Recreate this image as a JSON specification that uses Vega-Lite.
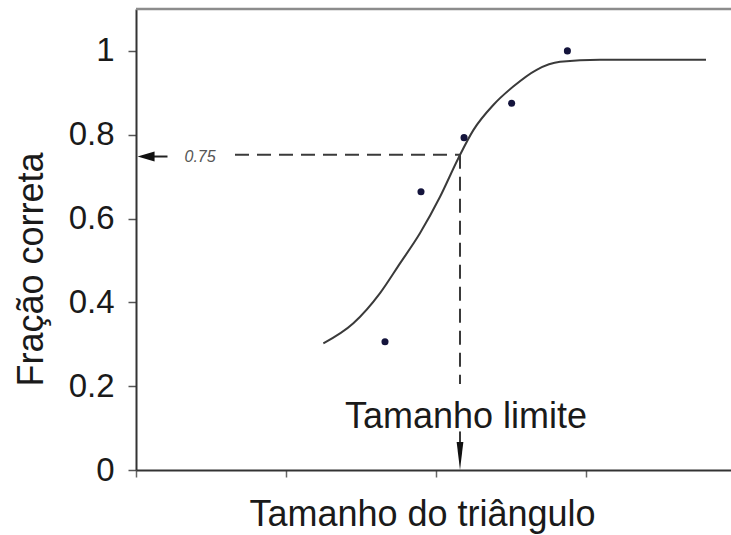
{
  "$schema": "https://vega.github.io/schema/vega-lite/v6.json",
  "width": 595,
  "height": 461,
  "autosize": {"type": "none"},
  "padding": {"left": 136, "top": 9, "right": 0, "bottom": 65},
  "background": "white",
  "config": {
    "view": {"stroke": null},
    "font": "Liberation Sans",
    "axis": {"grid": false}
  },
  "datasets": {
    "curve": [
      {"x": 1.249, "y": 0.302}, {"x": 1.449, "y": 0.35}, {"x": 1.627, "y": 0.422},
      {"x": 1.76, "y": 0.493}, {"x": 1.893, "y": 0.565}, {"x": 2.027, "y": 0.652},
      {"x": 2.149, "y": 0.744}, {"x": 2.249, "y": 0.811}, {"x": 2.382, "y": 0.871},
      {"x": 2.515, "y": 0.915}, {"x": 2.671, "y": 0.955}, {"x": 2.827, "y": 0.974},
      {"x": 3.093, "y": 0.979}, {"x": 3.8, "y": 0.979}
    ],
    "points": [
      {"x": 1.66, "y": 0.306}, {"x": 1.9, "y": 0.664}, {"x": 2.187, "y": 0.793},
      {"x": 2.504, "y": 0.875}, {"x": 2.876, "y": 1.0}
    ],
    "dashed": [
      {"x": 0.66, "x2": 2.16, "y": 0.752, "y2": 0.752},
      {"x": 2.16, "x2": 2.16, "y": 0.752, "y2": 0.205},
      {"x": 2.16, "x2": 2.16, "y": 0.092, "y2": 0.06}
    ]
  },
  "layer": [
    {
      "data": {"values": [{"x": 0, "x2": 3.9667, "y": 1.1}]},
      "mark": {"type": "rule", "color": "#8c8c8c", "strokeWidth": 2.5},
      "encoding": {
        "x": {"field": "x", "type": "quantitative", "scale": {"domain": [0, 3.9667], "nice": false},
          "axis": {"values": [0, 1, 2, 3], "labels": false, "tickSize": 7, "tickColor": "#666", "tickWidth": 1.5,
            "domainColor": "#333", "domainWidth": 2, "title": "Tamanho do triângulo",
            "titleFontSize": 36, "titleFontWeight": "normal", "titleColor": "#1a1a1a",
            "titleX": 286, "titleY": 55, "titleAlign": "center", "titleBaseline": "alphabetic"}},
        "x2": {"field": "x2"},
        "y": {"field": "y", "type": "quantitative", "scale": {"domain": [0, 1.1], "nice": false},
          "axis": {"values": [0, 0.2, 0.4, 0.6, 0.8, 1], "format": "~g", "tickSize": 8, "tickColor": "#555", "tickWidth": 1.5,
            "labelFontSize": 33, "labelColor": "#1a1a1a", "labelPadding": 14,
            "domainColor": "#333", "domainWidth": 2, "title": "Fração correta",
            "titleFontSize": 36, "titleFontWeight": "normal", "titleColor": "#1a1a1a",
            "titleX": -94, "titleY": 260, "titleAngle": -90, "titleAlign": "center", "titleBaseline": "alphabetic"}}
      }
    },
    {
      "data": {"name": "dashed"},
      "mark": {"type": "rule", "color": "#3a3a3a", "strokeWidth": 2, "strokeDash": [14, 8]},
      "encoding": {
        "x": {"field": "x", "type": "quantitative"},
        "x2": {"field": "x2"},
        "y": {"field": "y", "type": "quantitative"},
        "y2": {"field": "y2"}
      }
    },
    {
      "data": {"values": [{"x": 0.09, "x2": 0.21, "y": 0.748}]},
      "mark": {"type": "rule", "color": "#222", "strokeWidth": 2},
      "encoding": {
        "x": {"field": "x", "type": "quantitative"},
        "x2": {"field": "x2"},
        "y": {"field": "y", "type": "quantitative"}
      }
    },
    {
      "data": {"values": [{"x": 0.067, "y": 0.748}]},
      "mark": {"type": "point", "shape": "M -1 0 L 1 -0.6 L 1 0.6 Z", "size": 289, "filled": true, "color": "#111", "opacity": 1},
      "encoding": {
        "x": {"field": "x", "type": "quantitative"},
        "y": {"field": "y", "type": "quantitative"}
      }
    },
    {
      "data": {"values": [{"x": 2.16, "y": 0.0334}]},
      "mark": {"type": "point", "shape": "M 0 1 L -0.24 -1 L 0.24 -1 Z", "size": 784, "filled": true, "color": "#111", "opacity": 1},
      "encoding": {
        "x": {"field": "x", "type": "quantitative"},
        "y": {"field": "y", "type": "quantitative"}
      }
    },
    {
      "data": {"name": "curve"},
      "mark": {"type": "line", "color": "#3a3a3a", "strokeWidth": 2, "interpolate": "monotone"},
      "encoding": {
        "x": {"field": "x", "type": "quantitative"},
        "y": {"field": "y", "type": "quantitative"}
      }
    },
    {
      "data": {"name": "points"},
      "mark": {"type": "point", "shape": "circle", "size": 50, "filled": true, "color": "#14143c", "opacity": 1},
      "encoding": {
        "x": {"field": "x", "type": "quantitative"},
        "y": {"field": "y", "type": "quantitative"}
      }
    },
    {
      "data": {"values": [{"x": 2.2, "y": 0.1, "t": "Tamanho limite"}]},
      "mark": {"type": "text", "fontSize": 36, "color": "#1a1a1a", "align": "center", "baseline": "alphabetic"},
      "encoding": {
        "x": {"field": "x", "type": "quantitative"},
        "y": {"field": "y", "type": "quantitative"},
        "text": {"field": "t"}
      }
    },
    {
      "data": {"values": [{"x": 0.427, "y": 0.746, "t": "0.75"}]},
      "mark": {"type": "text", "fontSize": 16, "fontStyle": "italic", "color": "#555", "align": "center", "baseline": "middle"},
      "encoding": {
        "x": {"field": "x", "type": "quantitative"},
        "y": {"field": "y", "type": "quantitative"},
        "text": {"field": "t"}
      }
    }
  ]
}
